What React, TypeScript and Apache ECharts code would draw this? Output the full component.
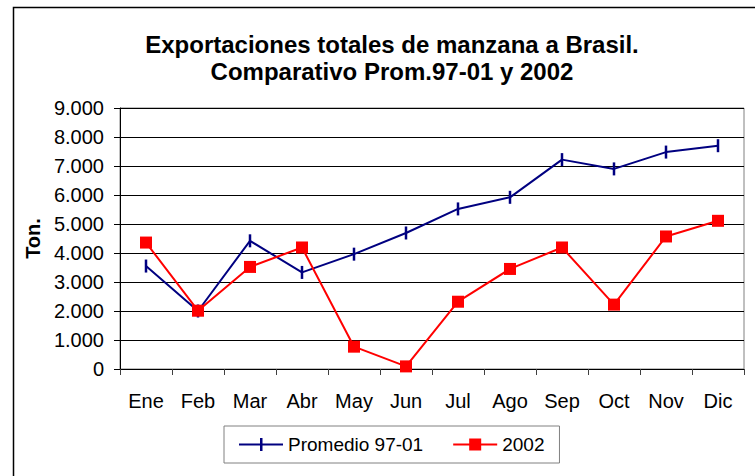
import React, { useEffect, useRef } from 'react';
import * as echarts from 'echarts';

const categories = ['Ene', 'Feb', 'Mar', 'Abr', 'May', 'Jun', 'Jul', 'Ago', 'Sep', 'Oct', 'Nov', 'Dic'];
const promedio = [3550, 2000, 4420, 3330, 3960, 4690, 5520, 5920, 7220, 6900, 7480, 7700];
const serie2002 = [4360, 2010, 3520, 4190, 770, 90, 2320, 3450, 4190, 2220, 4570, 5110];
const seriesNames = ['Promedio 97-01', '2002'];
const titleLines = ['Exportaciones totales de manzana a Brasil.', 'Comparativo Prom.97-01 y 2002'];
const yAxisName = 'Ton.';
const yMin = 0;
const yMax = 9000;
const yStep = 1000;

const FONT = '"Liberation Sans", Arial, sans-serif';

function fmt(v: number): string {
  return String(v).replace(/\B(?=(\d{3})+(?!\d))/g, '.');
}

export default function App() {
  const ref = useRef<HTMLDivElement>(null);
  useEffect(() => {
    if (!ref.current) return;
    const chart = echarts.init(ref.current, undefined, { renderer: 'svg' });
    chart.setOption({
      animation: false,
      backgroundColor: '#ffffff',
      title: {
        text: titleLines.join('\n'),
        left: 392,
        top: 31,
        textAlign: 'center',
        padding: 0,
        textStyle: {
          fontFamily: FONT,
          fontSize: 24,
          fontWeight: 'bold',
          lineHeight: 27,
          color: '#000',
        },
      },
      graphic: [
        {
          type: 'rect',
          shape: { x: 13.5, y: 7.5, width: 900, height: 700 },
          style: { fill: 'none', stroke: '#000', lineWidth: 1.5 },
          silent: true,
          z: -1,
        },
      ],
      legend: {
        left: 224,
        top: 426,
        padding: [9, 15],
        itemGap: 30,
        itemWidth: 44,
        itemHeight: 14,
        symbolKeepAspect: true,
        borderColor: '#808080',
        borderWidth: 1,
        textStyle: { fontFamily: FONT, fontSize: 19, color: '#000' },
        data: [
          {
            name: seriesNames[0],
            icon: 'path://M0,6 L44,6 L44,8 L0,8 Z M21,0.5 L23.5,0.5 L23.5,13.5 L21,13.5 Z',
          },
          {
            name: seriesNames[1],
            icon: 'path://M0,6 L44,6 L44,8 L0,8 Z M16,1 L28,1 L28,13 L16,13 Z',
          },
        ],
      },
      grid: {
        left: 120,
        top: 108,
        width: 624,
        height: 261,
        show: true,
        borderColor: '#808080',
        borderWidth: 1,
        backgroundColor: '#fff',
      },
      xAxis: {
        type: 'category',
        data: categories,
        boundaryGap: true,
        axisLine: { lineStyle: { color: '#000', width: 1 } },
        axisTick: { show: true, length: 6, lineStyle: { color: '#404040' } },
        axisLabel: { fontFamily: FONT, fontSize: 20, color: '#000', margin: 22 },
      },
      yAxis: {
        type: 'value',
        min: yMin,
        max: yMax,
        interval: yStep,
        name: yAxisName,
        nameLocation: 'middle',
        nameRotate: 90,
        nameGap: 67,
        nameTextStyle: { fontFamily: FONT, fontSize: 20, fontWeight: 'bold', color: '#000' },
        axisLine: { show: true, lineStyle: { color: '#000', width: 1 } },
        axisTick: { show: true, length: 6, lineStyle: { color: '#000' } },
        axisLabel: {
          fontFamily: FONT,
          fontSize: 20,
          color: '#000',
          margin: 16,
          formatter: (v: number) => fmt(v),
        },
        splitLine: { show: true, lineStyle: { color: '#000', width: 1 } },
      },
      series: [
        {
          name: seriesNames[0],
          type: 'line',
          data: promedio,
          symbol: 'rect',
          symbolSize: [2.5, 13],
          lineStyle: { color: '#000080', width: 2 },
          itemStyle: { color: '#000080', borderWidth: 0 },
          z: 2,
        },
        {
          name: seriesNames[1],
          type: 'line',
          data: serie2002,
          symbol: 'rect',
          symbolSize: 12,
          lineStyle: { color: '#ff0000', width: 2 },
          itemStyle: { color: '#ff0000', borderWidth: 0 },
          z: 3,
        },
      ],
    });
    return () => chart.dispose();
  }, []);
  return (
    <div
      ref={ref}
      style={{ position: 'absolute', left: 0, top: 0, width: 755, height: 476, background: '#fff' }}
    />
  );
}
